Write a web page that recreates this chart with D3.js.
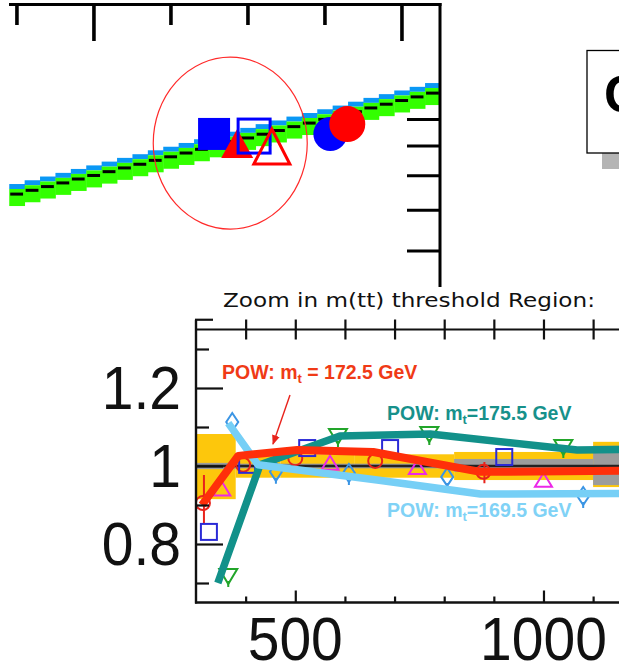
<!DOCTYPE html>
<html><head><meta charset="utf-8">
<script src="https://cdn.jsdelivr.net/npm/d3@7"></script>
<style>html,body{margin:0;padding:0;background:#fff;overflow:hidden}</style>
</head><body><svg id="c" width="619" height="669" xmlns="http://www.w3.org/2000/svg"></svg>
<script>
// ---------------- DATA ----------------
// Upper (overview) panel: histogram band
const upperBinEdges = [290,310,330,350,370,390,410,430,450,470,490,510,530,550,570,590,610,630,650,670,690,710,730,750,770,790,810,830,850];
const upperCentral = [6.45,6.56,6.67,6.78,6.90,7.01,7.13,7.25,7.37,7.50,7.62,7.75,7.88,8.02,8.15,8.29,8.43,8.57,8.72,8.86,9.01,9.16,9.32,9.48,9.64,9.80,9.96,10.13];
const upperBlueRel = [1.023, 1.046];   // blue edge (relative to central)
const upperGreenRel = [0.948, 1.023];  // green band (relative to central)
const upperTopTicks = [300,400,500,600,700,800];
const upperTopMajor = [400,800];
const upperRightTicks = [5,6,7,8,9];
// Upper markers
const upperMarkerKind = ["squareFilled","triFilled","squareOpen","triOpen","circleBlue","circleRed"];
const upperMarkerM = [556, 586, 608, 631, 707, 729];
const upperMarkerV = [8.44, 8.07, 8.36, 7.96, 8.44, 8.82];
const upperEllipse = {m: 577, v: 8.1};
const boxText = "CMS";

// Lower (zoom) panel
const titleText = "Zoom in m(tt) threshold Region:";
const xTickMajor = [500, 1000];
const xTickMinor = [400, 600, 700, 800, 900, 1100];
const xTickTop = [400, 500, 600, 700, 800, 900, 1000, 1100];
const yTickMajor = [0.8, 1.0, 1.2];
const yTickMinor = [0.7, 0.9, 1.1, 1.3];
const yTickLabels = ["0.8", "1", "1.2"];

const bandEdges = [300, 380, 470, 620, 820, 1100, 1600];
const bandTotLo = [0.915, 0.970, 0.970, 0.970, 0.964, 0.946];
const bandTotHi = [1.082, 1.030, 1.030, 1.030, 1.036, 1.062];
const bandStatLo = [0.992, 0.994, 0.994, 0.994, 0.985, 0.951];
const bandStatHi = [1.008, 1.006, 1.006, 1.006, 1.018, 1.052];

const pow1725M = [312, 385, 504, 657, 873, 1400];
const pow1725R = [0.900, 1.026, 1.041, 1.036, 0.985, 0.990];
const pow1755M = [344, 429, 590, 772, 1068, 1400];
const pow1755R = [0.700, 1.003, 1.077, 1.082, 1.041, 1.046];
const pow1695M = [365, 425, 665, 873, 1400];
const pow1695R = [1.110, 1.003, 0.964, 0.928, 0.931];

const redCircM = [314, 395, 500, 661, 879];
const redCircR = [0.905, 1.003, 1.020, 1.013, 0.985];
const redCircErrLo = [0.854, 1.003, 1.020, 1.013, 0.956];
const redCircErrHi = [0.977, 1.003, 1.020, 1.013, 1.010];
const blueSqM = [326, 403, 524, 691, 921];
const blueSqR = [0.831, 1.003, 1.046, 1.046, 1.023];
const magTriM = [352, 570, 746, 1000];
const magTriR = [0.940, 1.006, 0.995, 0.962];
const greenTriM = [365, 586, 770, 1040];
const greenTriR = [0.718, 1.077, 1.082, 1.049];
const diamM = [373, 461, 608, 806, 1080];
const diamR = [1.113, 0.985, 0.982, 0.972, 0.923];

const labels = [
  {pre: "POW: m", sub: "t", post: " = 172.5 GeV", color: "#f03a16"},
  {pre: "POW: m", sub: "t", post: "=175.5 GeV", color: "#17918b"},
  {pre: "POW: m", sub: "t", post: "=169.5 GeV", color: "#80d2f6"}
];

// ---------------- DRAW ----------------
const svg = d3.select("#c");
const defs = svg.append("defs");

// ===== Upper panel =====
const xU = d3.scaleLinear().domain([278, 849.4]).range([0, 440]);
const yU = d3.scaleLog().domain([4.201, 15.36]).range([290, 0]);
defs.append("clipPath").attr("id", "cu").append("rect")
  .attr("x", 9).attr("y", 6).attr("width", 430).attr("height", 281);

const gU = svg.append("g");
const bandU = gU.append("g").attr("clip-path", "url(#cu)");
upperCentral.forEach((c, i) => {
  const x0 = xU(upperBinEdges[i]), x1 = xU(upperBinEdges[i + 1]);
  const w = x1 - x0 + 0.4;
  bandU.append("rect").attr("x", x0).attr("width", w)
    .attr("y", yU(c * upperBlueRel[1])).attr("height", yU(c * upperBlueRel[0]) - yU(c * upperBlueRel[1]))
    .attr("fill", "#0a98f5");
  bandU.append("rect").attr("x", x0).attr("width", w)
    .attr("y", yU(c * upperGreenRel[1])).attr("height", yU(c * upperGreenRel[0]) - yU(c * upperGreenRel[1]))
    .attr("fill", "#33ff00");
  bandU.append("rect").attr("x", x0 + 1).attr("width", w - 3)
    .attr("y", yU(c) - 1.5).attr("height", 3).attr("fill", "#000");
});

// ellipse
gU.append("ellipse").attr("cx", xU(upperEllipse.m)).attr("cy", yU(upperEllipse.v))
  .attr("rx", 77).attr("ry", 86).attr("fill", "none").attr("stroke", "#ff2a2a").attr("stroke-width", 1.2);

// markers
const mk = gU.append("g").attr("clip-path", "url(#cu)");
upperMarkerKind.forEach((k, i) => {
  const cx = xU(upperMarkerM[i]), cy = yU(upperMarkerV[i]);
  if (k === "squareFilled") {
    mk.append("rect").attr("x", cx - 16).attr("y", cy - 16).attr("width", 32).attr("height", 32).attr("fill", "#0000ff");
  } else if (k === "squareOpen") {
    mk.append("rect").attr("x", cx - 16).attr("y", cy - 17).attr("width", 32).attr("height", 34)
      .attr("fill", "none").attr("stroke", "#0000ff").attr("stroke-width", 3);
  } else if (k === "triFilled") {
    mk.append("path").attr("d", `M${cx},${cy - 15} L${cx + 16},${cy + 14} L${cx - 16},${cy + 14} Z`).attr("fill", "#ff0000");
  } else if (k === "triOpen") {
    mk.append("path").attr("d", `M${cx},${cy - 18} L${cx + 18},${cy + 17} L${cx - 18},${cy + 17} Z`)
      .attr("fill", "none").attr("stroke", "#ff0000").attr("stroke-width", 3);
  } else if (k === "circleBlue") {
    mk.append("circle").attr("cx", cx).attr("cy", cy).attr("r", 17).attr("fill", "#0000ff");
  } else if (k === "circleRed") {
    mk.append("circle").attr("cx", cx).attr("cy", cy).attr("r", 18).attr("fill", "#ff0000");
  }
});

// frame & ticks (upper)
gU.append("line").attr("x1", 9).attr("x2", 441.5).attr("y1", 4.5).attr("y2", 4.5).attr("stroke", "#000").attr("stroke-width", 3);
gU.append("line").attr("x1", 440).attr("x2", 440).attr("y1", 3).attr("y2", 287).attr("stroke", "#000").attr("stroke-width", 3);
upperTopTicks.forEach(t => {
  const major = upperTopMajor.includes(t);
  gU.append("line").attr("x1", xU(t)).attr("x2", xU(t)).attr("y1", 4).attr("y2", major ? 41 : 25)
    .attr("stroke", "#000").attr("stroke-width", 3.6);
});
upperRightTicks.forEach(t => {
  gU.append("line").attr("x1", 407).attr("x2", 440).attr("y1", yU(t)).attr("y2", yU(t))
    .attr("stroke", "#000").attr("stroke-width", 3);
});

// box top right
svg.append("rect").attr("x", 602).attr("y", 66).attr("width", 60).attr("height", 103).attr("fill", "#b4b4b4");
svg.append("rect").attr("x", 587).attr("y", 50.5).attr("width", 60).attr("height", 102.5)
  .attr("fill", "#fff").attr("stroke", "#000").attr("stroke-width", 1.3);
svg.append("text").attr("x", 604).attr("y", 112).attr("font-family", "Liberation Sans, Arial, sans-serif")
  .attr("font-weight", "bold").attr("font-size", 52).attr("fill", "#000").text(boxText);

// ===== Lower panel =====
const xL = d3.scaleLinear().domain([300, 1160]).range([196, 196 + 860 * 0.4964]);
const yL = d3.scaleLinear().domain([0.7, 1.3]).range([583, 349]);
const yBot = yL(0.65), yTopFrame = yL(1.35), yTopMost = yL(1.375);
defs.append("clipPath").attr("id", "cl").append("rect")
  .attr("x", 197).attr("y", yTopFrame + 1).attr("width", 430).attr("height", yBot - yTopFrame - 2);

const gL = svg.append("g");
// title
gL.append("text").attr("x", 223).attr("y", 307)
  .attr("font-family", "'Comic Sans MS', 'DejaVu Sans', sans-serif").attr("font-size", 19)
  .attr("textLength", 372).attr("lengthAdjust", "spacingAndGlyphs").attr("fill", "#111").text(titleText);

const plot = gL.append("g").attr("clip-path", "url(#cl)");
// bands
bandTotLo.forEach((lo, i) => {
  const x0 = xL(bandEdges[i]), x1 = xL(bandEdges[i + 1]);
  plot.append("rect").attr("x", x0).attr("width", x1 - x0).attr("y", yL(bandTotHi[i]))
    .attr("height", yL(lo) - yL(bandTotHi[i])).attr("fill", "#fdc70c");
  plot.append("rect").attr("x", x0).attr("width", x1 - x0).attr("y", yL(bandStatHi[i]))
    .attr("height", yL(bandStatLo[i]) - yL(bandStatHi[i])).attr("fill", "#9c9c9c");
});
// reference line at 1
plot.append("line").attr("x1", 196).attr("x2", 640).attr("y1", yL(1)).attr("y2", yL(1))
  .attr("stroke", "#222").attr("stroke-width", 2.5);

// markers
const sw = 2;
// red circles with error bars
redCircM.forEach((m, i) => {
  if (redCircErrHi[i] > redCircErrLo[i]) {
    plot.append("line").attr("x1", xL(m) + 1).attr("x2", xL(m) + 1).attr("y1", yL(redCircErrHi[i])).attr("y2", yL(redCircErrLo[i]))
      .attr("stroke", "#e8231c").attr("stroke-width", 2);
  }
  plot.append("circle").attr("cx", xL(m)).attr("cy", yL(redCircR[i])).attr("r", 7)
    .attr("fill", "none").attr("stroke", "#e8231c").attr("stroke-width", sw);
});
blueSqM.forEach((m, i) => {
  plot.append("rect").attr("x", xL(m) - 8).attr("y", yL(blueSqR[i]) - 8).attr("width", 16).attr("height", 16)
    .attr("fill", "none").attr("stroke", "#2a2ad6").attr("stroke-width", sw);
});
magTriM.forEach((m, i) => {
  const cx = xL(m), cy = yL(magTriR[i]);
  plot.append("path").attr("d", `M${cx},${cy - 8} L${cx + 8.5},${cy + 6} L${cx - 8.5},${cy + 6} Z`)
    .attr("fill", "none").attr("stroke", "#ec28e8").attr("stroke-width", sw);
});
greenTriM.forEach((m, i) => {
  const cx = xL(m), cy = yL(greenTriR[i]);
  plot.append("line").attr("x1", cx).attr("x2", cx).attr("y1", cy + 5).attr("y2", cy + 11)
    .attr("stroke", "#22a52a").attr("stroke-width", 2);
  plot.append("path").attr("d", `M${cx - 9},${cy - 7} L${cx + 9},${cy - 7} L${cx},${cy + 8} Z`)
    .attr("fill", "none").attr("stroke", "#22a52a").attr("stroke-width", sw);
});
diamM.forEach((m, i) => {
  const cx = xL(m), cy = yL(diamR[i]);
  plot.append("line").attr("x1", cx).attr("x2", cx).attr("y1", cy + 6).attr("y2", cy + 12)
    .attr("stroke", "#3b95e4").attr("stroke-width", 2);
  plot.append("path").attr("d", `M${cx},${cy - 9} L${cx + 6},${cy} L${cx},${cy + 9} L${cx - 6},${cy} Z`)
    .attr("fill", "none").attr("stroke", "#3b95e4").attr("stroke-width", sw);
});

// lines
const lineGen = d3.line().x(d => xL(d[0])).y(d => yL(d[1]));
plot.append("path").attr("d", lineGen(d3.zip(pow1755M, pow1755R))).attr("fill", "none")
  .attr("stroke", "#12918a").attr("stroke-width", 7.5).attr("stroke-linejoin", "round");
plot.append("path").attr("d", lineGen(d3.zip(pow1695M, pow1695R))).attr("fill", "none")
  .attr("stroke", "#76cff6").attr("stroke-width", 7.5).attr("stroke-linejoin", "round");
plot.append("path").attr("d", lineGen(d3.zip(pow1725M, pow1725R))).attr("fill", "none")
  .attr("stroke", "#ff2f0a").attr("stroke-width", 8).attr("stroke-linejoin", "round");

// axes
const axC = "#111";
gL.append("line").attr("x1", 196).attr("x2", 196).attr("y1", yTopMost).attr("y2", yBot + 1).attr("stroke", axC).attr("stroke-width", 2.4);
gL.append("line").attr("x1", 195).attr("x2", 640).attr("y1", yBot).attr("y2", yBot).attr("stroke", axC).attr("stroke-width", 2.4);
gL.append("line").attr("x1", 195).attr("x2", 640).attr("y1", yTopFrame).attr("y2", yTopFrame).attr("stroke", axC).attr("stroke-width", 2.2);
gL.append("line").attr("x1", 195).attr("x2", 213).attr("y1", yTopMost).attr("y2", yTopMost).attr("stroke", axC).attr("stroke-width", 2.2);

function styleAxis(g) {
  g.select(".domain").remove();
  g.selectAll(".tick line").attr("stroke", axC).attr("stroke-width", 2.2);
  g.selectAll(".tick text").remove();
}
gL.append("g").attr("transform", `translate(196,0)`)
  .call(d3.axisLeft(yL).tickValues(yTickMajor).tickSize(-27)).call(styleAxis);
gL.append("g").attr("transform", `translate(196,0)`)
  .call(d3.axisLeft(yL).tickValues(yTickMinor).tickSize(-13)).call(styleAxis);
gL.append("g").attr("transform", `translate(0,${yBot})`)
  .call(d3.axisBottom(xL).tickValues(xTickMajor).tickSize(-12)).call(styleAxis);
gL.append("g").attr("transform", `translate(0,${yBot})`)
  .call(d3.axisBottom(xL).tickValues(xTickMinor).tickSize(-6)).call(styleAxis);
gL.append("g").attr("transform", `translate(0,${yTopFrame})`)
  .call(d3.axisTop(xL).tickValues(xTickTop).tickSize(10)).call(styleAxis);
gL.append("g").attr("transform", `translate(0,${yTopFrame})`)
  .call(d3.axisBottom(xL).tickValues(xTickTop).tickSize(10)).call(styleAxis);

// tick labels
const numFont = "'Liberation Sans', Arial, Helvetica, sans-serif";
yTickMajor.forEach((t, i) => {
  gL.append("text").attr("transform", `translate(181,${yL(t) + 21}) scale(1,1.08)`)
    .attr("text-anchor", "end").attr("font-family", numFont).attr("font-size", 57).attr("fill", "#111")
    .text(yTickLabels[i]);
});
xTickMajor.forEach(t => {
  gL.append("text").attr("transform", `translate(${xL(t)},660) scale(1,1.08)`)
    .attr("text-anchor", "middle").attr("font-family", numFont).attr("font-size", 57).attr("fill", "#111")
    .text(String(t));
});

// series labels
const labPos = [[222, 379], [387, 420], [387, 517]];
labels.forEach((l, i) => {
  const t = gL.append("text").attr("x", labPos[i][0]).attr("y", labPos[i][1])
    .attr("font-family", numFont).attr("font-weight", "bold").attr("font-size", 19.5).attr("fill", l.color);
  t.append("tspan").text(l.pre);
  t.append("tspan").attr("font-size", 13).attr("dy", 4).text(l.sub);
  t.append("tspan").attr("dy", -4).text(l.post);
});

// arrow
defs.append("marker").attr("id", "ah").attr("viewBox", "0 0 10 10").attr("refX", 9).attr("refY", 5)
  .attr("markerWidth", 7).attr("markerHeight", 7).attr("orient", "auto-start-reverse")
  .append("path").attr("d", "M0,1 L10,5 L0,9 Z").attr("fill", "#e8231c");
gL.append("line").attr("x1", 290).attr("y1", 395).attr("x2", 273).attr("y2", 444)
  .attr("stroke", "#e8231c").attr("stroke-width", 1.4).attr("marker-end", "url(#ah)");
</script>
</body></html>
